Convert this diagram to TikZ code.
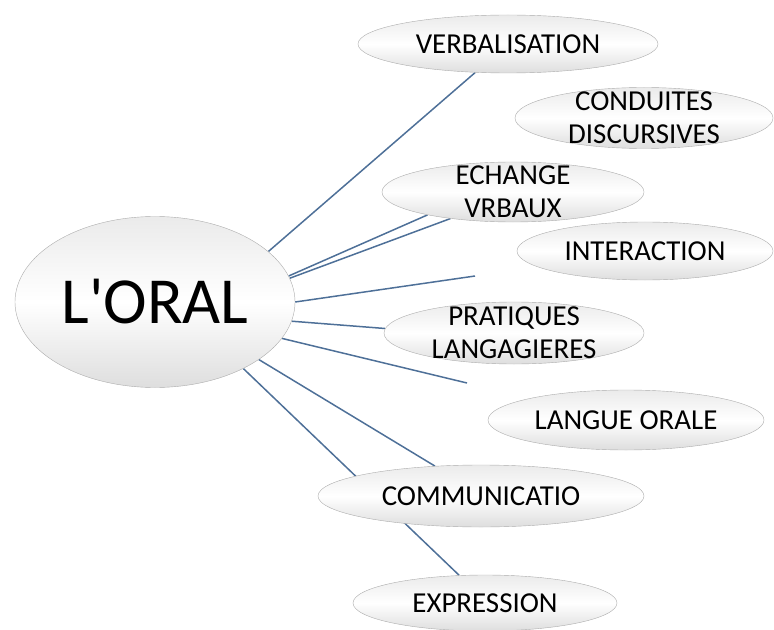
\documentclass[tikz,border=0pt]{standalone}
\usepackage{fontspec}
\setmainfont{Carlito}
\usetikzlibrary{shapes.geometric,backgrounds}
\definecolor{linkblue}{RGB}{78,112,152}
\begin{document}
\begin{tikzpicture}[x=1bp,y=-1bp,
  bubble/.style={ellipse,draw=gray!65,top color=gray!16,bottom color=gray!26,middle color=white,
    inner sep=0pt,align=center,font=\fontsize{29}{33}\selectfont},
  twoline/.style={inner ysep=-15bp},
  link/.style={linkblue,line width=1.5bp}]
\useasboundingbox (0,0) rectangle (774,630);
\node[bubble,minimum width=280bp,minimum height=171bp,font=\fontsize{66}{70}\selectfont] (oral) at (155,302) {L\textquotesingle ORAL};
\node[bubble,minimum width=300bp,minimum height=58bp] (verb) at (508,44) {VERBALISATION};
\node[bubble,twoline,minimum width=258bp,minimum height=61bp] (cond) at (644,118) {CONDUITES\\DISCURSIVES};
\node[bubble,twoline,minimum width=262bp,minimum height=60bp] (echange) at (513,192) {ECHANGE\\VRBAUX};
\node[bubble,minimum width=256bp,minimum height=58bp] (inter) at (645,251) {INTERACTION};
\node[bubble,twoline,minimum width=260bp,minimum height=62bp] (prat) at (514,333) {PRATIQUES\\LANGAGIERES};
\node[bubble,minimum width=276bp,minimum height=60bp] (langue) at (626,420) {LANGUE ORALE};
\node[bubble,minimum width=326bp,minimum height=62bp] (comm) at (481,496) {COMMUNICATIO};
\node[bubble,minimum width=264bp,minimum height=56bp] (expr) at (485,603) {EXPRESSION};
\coordinate (interend) at (475,276);
\coordinate (langueend) at (467,383);
\begin{scope}[on background layer]
\foreach \a/\b in {24/verb.221,11/echange.195,10/echange.203,0/interend,-8/prat.178,-16/langueend,-29/comm.147,-37/expr.133}
\draw[link] (oral.\a) -- (\b);
\end{scope}
\end{tikzpicture}
\end{document}
